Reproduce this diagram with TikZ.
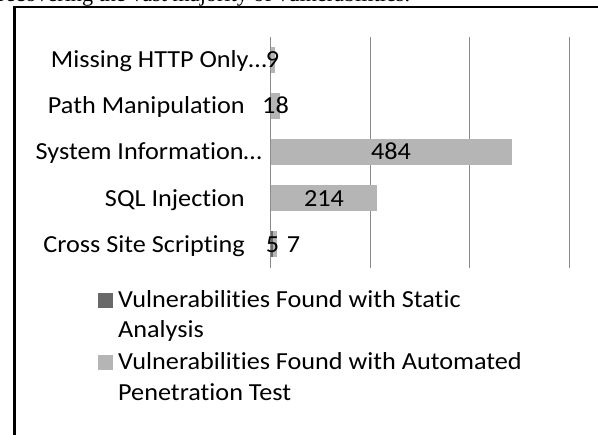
\documentclass[tikz,border=0pt]{standalone}
\usepackage{fontspec}
\setmainfont{Carlito}[FakeStretch=1.07,Ligatures=NoCommon]
\newfontfamily\timesfont{Liberation Serif}
\definecolor{gridgray}{RGB}{140,140,140}
\definecolor{lightbar}{RGB}{181,181,181}
\definecolor{darkbar}{RGB}{105,105,105}
\begin{document}
\begin{tikzpicture}[x=1pt,y=-1pt,
  chartfont/.style={font=\fontsize{24.5}{30}\selectfont},
  catlabel/.style={chartfont,anchor=base east,inner sep=0pt},
  vallabel/.style={chartfont,anchor=base,inner sep=0pt},
  legtext/.style={chartfont,anchor=base west,inner sep=0pt},
  gridln/.style={draw=gridgray,line width=1.3pt},
  autobar/.style={fill=lightbar},
  staticbar/.style={fill=darkbar}]
\useasboundingbox (0,0) rectangle (598,435);
\fill[white] (0,0) rectangle (598,435);
% cut-off caption text
\begin{scope}
  \clip (0,0) rectangle (598,435);
  \node[anchor=base west,inner sep=0pt,font=\timesfont\fontsize{22.2}{26}\selectfont] (caption) at (-2,1.5) {recovering the vast majority of vulnerabilities.};
\end{scope}
% frame
\draw[line width=1.2pt] (13,7) -- (598,7);
\draw[line width=3pt] (14.2,7) -- (14.2,435);
% gridlines
\foreach \gx in {370.3,469.7,569.3} {
  \draw[gridln] (\gx,37) -- (\gx,268);
}
% bars (scale 0.498 px per unit, origin 270.7)
\fill[autobar] (270.7,47) rectangle (275.2,73);
\fill[autobar] (270.7,93) rectangle (279.7,119);
\fill[autobar] (270.7,139) rectangle (511.7,165);
\fill[autobar] (270.7,185.5) rectangle (377.3,211.5);
\fill[staticbar] (270.7,231.5) rectangle (273.2,257.5);
\fill[autobar] (273.2,231.5) rectangle (276.7,257.5);
% axis
\draw[gridln] (270.7,37) -- (270.7,268);
% category labels
\node[catlabel] (c1) at (267,68) {Missing HTTP Only…};
\node[catlabel] (c2) at (245,114) {Path Manipulation};
\node[catlabel] (c3) at (262,160) {System Information…};
\node[catlabel] (c4) at (245,206.5) {SQL Injection};
\node[catlabel] (c5) at (245,252.5) {Cross Site Scripting};
% value labels
\node[vallabel] (v1) at (272.5,68) {9};
\node[vallabel] (v2) at (275.5,114) {18};
\node[vallabel] (v3) at (391,160) {484};
\node[vallabel] (v4) at (324,206.5) {214};
\node[vallabel] (v5a) at (272.5,252.5) {5};
\node[vallabel] (v5b) at (293.5,252.5) {7};
% legend
\fill[darkbar] (98,293) rectangle (113,308);
\fill[lightbar] (98,355) rectangle (113,370);
\node[legtext] (l1a) at (118,308) {Vulnerabilities Found with Static};
\node[legtext] (l1b) at (118,338) {Analysis};
\node[legtext] (l2a) at (118,370) {Vulnerabilities Found with Automated};
\node[legtext] (l2b) at (118,401) {Penetration Test};
\end{tikzpicture}
\end{document}
